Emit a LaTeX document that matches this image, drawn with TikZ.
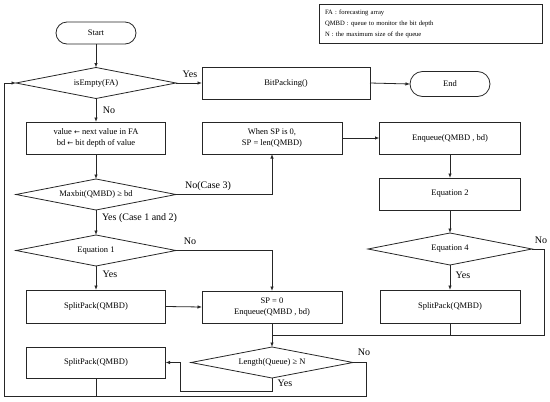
\documentclass[tikz,border=0pt]{standalone}
\usepackage{fontspec}
\setmainfont{Liberation Serif}
\usetikzlibrary{arrows.meta}
\newcommand{\diamondof}[1]{\draw[conn, line join=miter] (#1.north) -- (#1.east) -- (#1.south) -- (#1.west) -- cycle;}
\begin{document}
\begin{tikzpicture}[x=1pt,y=-1pt,
  every node/.style={outer sep=0pt, inner sep=1pt},
  base/.style={draw=black!85, line width=0.8pt, font=\fontsize{8.5}{10.5}\selectfont, align=center},
  procbox/.style={base, rectangle},
  term/.style={base, rectangle, rounded corners=11pt},
  decision/.style={base, rectangle, draw=none},
  lbl/.style={font=\fontsize{10}{12}\selectfont},
  conn/.style={draw=black!85, line width=0.8pt},
  arr/.style={conn, -{Latex[length=4.5pt,width=3.5pt]}}
]
\useasboundingbox (0,0) rectangle (550,402);

\node[base, rectangle, text width=211pt, align=left, inner xsep=6pt, minimum height=39pt,
      font=\fontsize{6.6}{11}\selectfont] (legend) at (430.5,23.5)
  {FA : forecasting array\\QMBD : queue to monitor the bit depth\\N : the maximum size of the queue};

\node[term, minimum width=80pt, minimum height=22pt] (start) at (96,33) {Start};
\node[decision, minimum width=160pt, minimum height=31pt] (isempty) at (96,83) {isEmpty(FA)};
\node[procbox, minimum width=168pt, minimum height=32pt] (bitpack) at (286,83) {BitPacking()};
\node[term, minimum width=80pt, minimum height=25pt, rounded corners=12.5pt] (endn) at (450,84) {End};

\node[procbox, minimum width=139pt, minimum height=32pt] (value) at (96,138)
  {value \fontspec{DejaVu Sans}\fontsize{7}{9}\selectfont←\fontspec{Liberation Serif}\fontsize{8.5}{10.5}\selectfont{} next value in FA\\bd \fontspec{DejaVu Sans}\fontsize{7}{9}\selectfont←\fontspec{Liberation Serif}\fontsize{8.5}{10.5}\selectfont{} bit depth of value};
\node[procbox, minimum width=140pt, minimum height=32pt] (spwhen) at (272,138) {When SP is 0,\\SP = len(QMBD)};
\node[procbox, minimum width=141pt, minimum height=32pt] (enq) at (450,138) {Enqueue(QMBD , bd)};

\node[decision, minimum width=160pt, minimum height=31pt] (maxbit) at (96,194.5) {Maxbit(QMBD) ≥ bd};
\node[procbox, minimum width=141pt, minimum height=32pt] (eq2) at (450,194) {Equation 2};

\node[decision, minimum width=160pt, minimum height=31pt] (eq1) at (96,250.5) {Equation 1};
\node[decision, minimum width=164pt, minimum height=32pt] (eq4) at (450,249) {Equation 4};

\node[procbox, minimum width=139pt, minimum height=33pt] (split1) at (96,306.5) {SplitPack(QMBD)};
\node[procbox, minimum width=140pt, minimum height=32pt] (sp0) at (272,307) {SP = 0\\Enqueue(QMBD , bd)};
\node[procbox, minimum width=140pt, minimum height=33pt] (split3) at (450,306.5) {SplitPack(QMBD)};

\node[procbox, minimum width=139pt, minimum height=31pt] (split2) at (96,362.5) {SplitPack(QMBD)};
\node[decision, minimum width=162pt, minimum height=31pt] (length) at (272,362.5) {Length(Queue) ≥ N};

\diamondof{isempty}
\diamondof{maxbit}
\diamondof{eq1}
\diamondof{eq4}
\diamondof{length}

\coordinate (join) at (272,335);

% connectors
\draw[arr] (start.south) -- (isempty.north);
\draw[arr] (isempty.east) -- (bitpack.west);
\node[lbl] (lyes1) at (190,74) {Yes};
\draw[arr] (bitpack.east) -- (endn.west);
\draw[arr] (isempty.south) -- (value.north);
\node[lbl] (lno1) at (109,110) {No};
\draw[arr] (value.south) -- (maxbit.north);
\draw[arr] (maxbit.east) -| (spwhen.south);
\node[lbl] (lno3) at (208,186) {No(Case 3)};
\draw[arr] (spwhen.east) -- (enq.west);
\draw[arr] (enq.south) -- (eq2.north);
\draw[arr] (eq2.south) -- (eq4.north);
\draw[arr] (maxbit.south) -- (eq1.north);
\node[lbl, anchor=west] (lyes12) at (101,218) {Yes (Case 1 and 2)};
\draw[arr] (eq1.east) -| (sp0.north);
\node[lbl] (lno2) at (190,241) {No};
\draw[arr] (eq1.south) -- (split1.north);
\node[lbl] (lyes2) at (110,274) {Yes};
\draw[arr] (split1.east) -- (sp0.west);
\draw[arr] (eq4.south) -- (split3.north);
\node[lbl] (lyes4) at (463,275) {Yes};
\draw[conn] (eq4.east) -- (544,249) -- (544,335) -- (join);
\node[lbl] (lno4) at (541,240) {No};
\draw[conn] (split3.south) -- (split3.south |- join);
\draw[arr] (sp0.south) -- (length.north);
\draw[arr] (length.south) -- (272,391) -- (180,391) -- (180,362.5) -- (split2.east);
\node[lbl] (lyes5) at (285,383) {Yes};
\draw[arr] (length.east) -- (366,362.5) -- (366,396) -- (4,396) -- (4,83) -- (isempty.west);
\node[lbl] (lno5) at (364,352) {No};
\draw[conn] (split2.south) -- (96,396);
\end{tikzpicture}
\end{document}
